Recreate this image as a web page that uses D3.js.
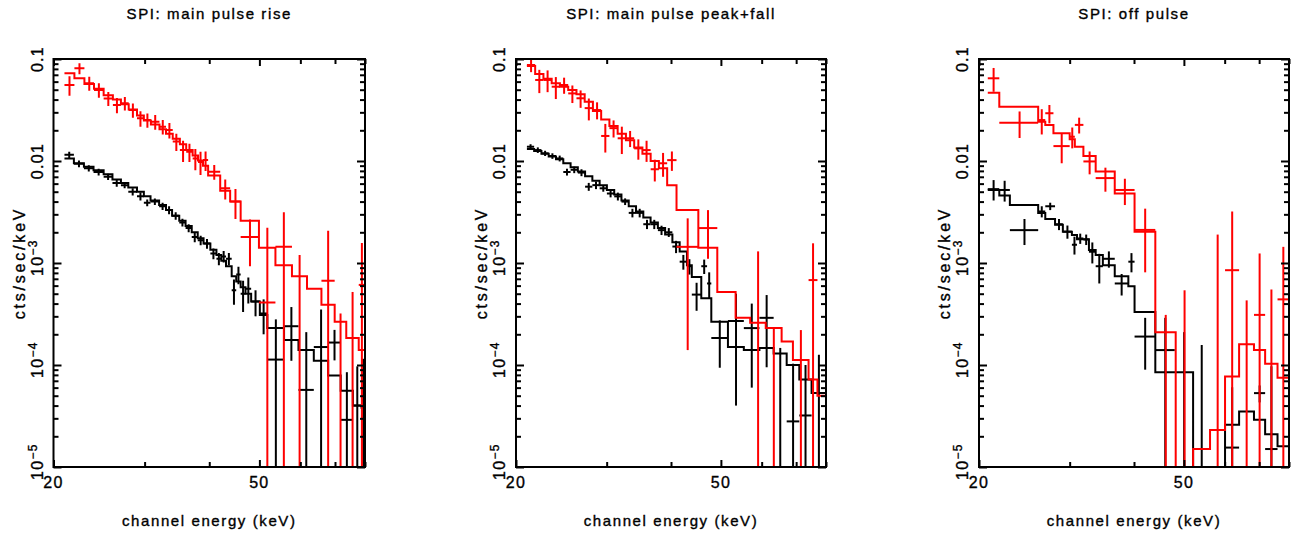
<!DOCTYPE html>
<html><head><meta charset="utf-8">
<script src="https://cdn.jsdelivr.net/npm/d3@7"></script>
<style>
html,body{margin:0;padding:0;background:#fff;}
svg{display:block;}
text{font-family:"Liberation Sans", Arial, Helvetica, sans-serif;fill:#000;stroke:#000;stroke-width:0.35px;}
</style></head><body>
<svg id="chart" width="1299" height="533"></svg>
<script>
// ---------- titles and axis text ----------
const panelTitles = ["SPI: main pulse rise", "SPI: main pulse peak+fall", "SPI: off pulse"];
const xAxisTitle = "channel energy (keV)";
const yAxisTitle = "cts/sec/keV";
const xMajorTicks = [20, 50];
const xMajorLabels = ["20", "50"];
const xMinorTicks = [30, 40, 60, 70, 80];
const yMajorTicks = [1e-1, 1e-2, 1e-3, 1e-4, 1e-5];
const yTickBase = ["0.1", "0.01", "10", "10", "10"];
const yTickExp = ["", "", "\u22123", "\u22124", "\u22125"];
const xDomain = [20, 80];
const yDomain = [1e-5, 0.1];

// ---------- panel 1: main pulse rise ----------
const p1BlackEdges = [21.0, 21.9, 22.9, 23.9, 25.0, 26.0, 27.0, 27.9, 29.0, 29.9, 30.8, 32.0, 33.0, 33.9, 35.0, 36.0, 37.0, 38.0, 39.0, 40.2, 41.3, 42.2, 43.1, 44.2, 45.1, 46.0, 47.0, 48.2, 50.1, 51.8, 55.8, 59.5, 63.7, 67.9, 71.8, 75.8, 78.8, 80.0];
const p1BlackRate = [0.0115, 0.0094, 0.0085, 0.0078, 0.0070, 0.0061, 0.0058, 0.0050, 0.0045, 0.0039, 0.0040, 0.0036, 0.0033, 0.0029, 0.0025, 0.0022, 0.0018, 0.00167, 0.00155, 0.00124, 0.0011, 0.00116, 0.0011, 0.00054, 0.00077, 0.00050, 0.00056, 0.00042, 0.00032, 0.000113, 0.00024, 0.000057, 0.00015, 0.000166, 0.000029, 0.000040, 0.000045];
const p1BlackErr = [0.0008, 0.0007, 0.0006, 0.0006, 0.0005, 0.0005, 0.0004, 0.0004, 0.0004, 0.0003, 0.0003, 0.0003, 0.0003, 0.00025, 0.00022, 0.0002, 0.0002, 0.00018, 0.00017, 0.00015, 0.00015, 0.00015, 0.00015, 0.00015, 0.00015, 0.00017, 0.00016, 0.00012, 0.00012, 0.000167, 0.00013, 0.000153, 0.0002, 0.000055, 0.000056, 0.000057, 0.00007];
const p1BlackModel = [0.0106, 0.0095, 0.0088, 0.0081, 0.0074, 0.0066, 0.0061, 0.0055, 0.0050, 0.0045, 0.0041, 0.0037, 0.0033, 0.0029, 0.0026, 0.0023, 0.0020, 0.00175, 0.00155, 0.00135, 0.0012, 0.00105, 0.00093, 0.00074, 0.00066, 0.00058, 0.00050, 0.00042, 0.00031, 0.00023, 0.000176, 0.00014, 0.00011, 0.000079, 0.000056, 0.000040, 0.000038];

const p1RedEdges = [21.0, 21.95, 22.95, 23.95, 25.0, 26.05, 27.0, 27.95, 29.0, 29.9, 30.85, 32.05, 33.0, 34.0, 35.1, 36.1, 37.15, 38.05, 38.9, 39.8, 42.0, 43.9, 46.0, 49.9, 53.7, 57.8, 61.8, 65.9, 69.9, 73.6, 77.8, 80.0];
const p1RedRate = [0.0556, 0.081, 0.0578, 0.0497, 0.0411, 0.0354, 0.0368, 0.0316, 0.0262, 0.0252, 0.0243, 0.0217, 0.0201, 0.0155, 0.0128, 0.0123, 0.0106, 0.0098, 0.0102, 0.00785, 0.0054, 0.0040, 0.0018, 0.00041, 0.00144, 0, null, 0.00067, 0, 0, 0.00061];
const p1RedErr = [0.012, 0.010, 0.009, 0.008, 0.0065, 0.006, 0.0055, 0.005, 0.0045, 0.004, 0.004, 0.0035, 0.0035, 0.003, 0.003, 0.0025, 0.0025, 0.0025, 0.0022, 0.0013, 0.0012, 0.0013, 0.00087, 0.0018, 0.0017, 0.0012, null, 0.0014, 0.00032, 0.00052, 0.00096];
const p1RedModel = [0.0724, 0.0647, 0.057, 0.051, 0.044, 0.040, 0.036, 0.032, 0.028, 0.025, 0.0228, 0.0205, 0.0185, 0.0165, 0.0146, 0.0128, 0.0113, 0.0101, 0.0090, 0.0072, 0.0051, 0.0040, 0.00259, 0.00141, 0.00095, 0.00074, 0.00056, 0.00039, 0.000265, 0.000184, 0.00014];

// ---------- panel 2: main pulse peak+fall ----------
const p2BlackEdges = [21.0, 21.69, 22.41, 23.15, 23.92, 24.71, 25.53, 26.37, 27.24, 28.14, 29.07, 30.03, 31.03, 32.05, 33.11, 34.21, 35.34, 36.51, 37.72, 38.96, 40.25, 41.58, 42.96, 43.9, 45.8, 47.0, 47.9, 51.6, 55.4, 59.4, 63.3, 67.1, 71.0, 75.0, 80.0];
const p2BlackRate = [0.0138, 0.0128, 0.0119, 0.0112, 0.0106, 0.0078, 0.0082, 0.0077, 0.0056, 0.0058, 0.0054, 0.0048, 0.0045, 0.0040, 0.0031, 0.0031, 0.0024, 0.0024, 0.0021, 0.0020, 0.00145, 0.00103, 0.00093, 0.00049, 0.00093, 0.00063, 0.000184, 0.00027, 0.00023, 0.00029, 0, 0.000028, 0.000032, 0];
const p2BlackErr = [0.0008, 0.0008, 0.0007, 0.0007, 0.0007, 0.0006, 0.0006, 0.0006, 0.0005, 0.0005, 0.0004, 0.0004, 0.0004, 0.0003, 0.0003, 0.0003, 0.00025, 0.00025, 0.00022, 0.0002, 0.0002, 0.00017, 0.00016, 0.00015, 0.00015, 0.00018, 0.00009, 0.00023, 0.00017, 0.000195, 0.000147, 0.000075, 0.000068, 0.000126];
const p2BlackModel = [0.0131, 0.0125, 0.0118, 0.0111, 0.0104, 0.0095, 0.0087, 0.0079, 0.0071, 0.0064, 0.0058, 0.0052, 0.0047, 0.0041, 0.0036, 0.0032, 0.0028, 0.0025, 0.0022, 0.0019, 0.0016, 0.0013, 0.00095, 0.00073, 0.00045, 0.00045, 0.000265, 0.00015, 0.00014, 0.000147, 0.00013, 0.0001, 0.000072, 0.000053];

const p2RedEdges = [21.0, 21.79, 22.61, 23.46, 24.34, 25.26, 26.21, 27.19, 28.21, 29.27, 30.37, 31.51, 32.70, 33.93, 35.20, 36.52, 37.89, 39.32, 41.0, 45.2, 49.2, 53.4, 57.0, 61.1, 65.6, 69.0, 74.0, 77.0, 80.0];
const p2RedRate = [0.0873, 0.0623, 0.0623, 0.0535, 0.0556, 0.046, 0.0412, 0.033, 0.0316, 0.0176, 0.021, 0.0167, 0.0167, 0.0133, 0.0128, 0.0083, 0.0095, 0.0102, 0.00144, 0.0022, null, null, 0, 0, null, 0, 0.00068, null];
const p2RedErr = [0.013, 0.016, 0.015, 0.013, 0.010, 0.009, 0.008, 0.008, 0.006, 0.0055, 0.004, 0.005, 0.003, 0.003, 0.003, 0.002, 0.0025, 0.0022, 0.0013, 0.0011, null, null, 0.0013, 0.00023, null, 0.00022, 0.00088, null];
const p2RedModel = [0.0854, 0.0713, 0.064, 0.058, 0.0536, 0.0497, 0.045, 0.038, 0.031, 0.0255, 0.022, 0.0185, 0.0160, 0.0136, 0.0118, 0.0100, 0.0085, 0.0058, 0.0033, 0.00141, 0.00052, 0.00029, 0.00026, 0.00023, 0.00017, 0.000112, 0.000072, 0.000050];

// ---------- panel 3: off pulse ----------
const p3BlackEdges = [20.8, 21.9, 22.96, 26.06, 26.9, 28.1, 29.1, 30.3, 31.0, 31.9, 32.7, 33.7, 34.8, 36.7, 39.0, 40.1, 44.0, 48.0, 52.1, 56.2, 60.1, 64.0, 68.4, 71.9, 76.0, 80.0];
const p3BlackRate = [0.0053, 0.0052, 0.0021, 0.0032, 0.0036, 0.0024, 0.00203, 0.00151, 0.00174, 0.0017, 0.00129, 0.00093, 0.0011, 0.00063, 0.00103, 0.00019, 0.00014, 0, 0, null, 0.0000155, null, 0.000053, 0.000015, null];
const p3BlackErr = [0.0012, 0.0012, 0.0006, 0.0004, 0.0003, 0.0003, 0.0003, 0.0003, 0.0002, 0.0002, 0.0003, 0.0003, 0.0002, 0.00015, 0.00022, 0.0001, 0.00015, 0.00021, 0.000157, null, 0.000045, null, 0.00001, 0.000082, null];
const p3BlackModel = [0.0052, 0.0046, 0.0037, 0.0031, 0.0027, 0.00237, 0.00203, 0.00188, 0.00171, 0.00171, 0.00134, 0.00120, 0.00095, 0.00074, 0.00059, 0.00033, 0.000085, 0.000085, 0.000001, 0.000001, 0.000026, 0.000035, 0.000029, 0.000021, 0.000016];

const p3RedEdges = [20.8, 21.9, 26.06, 26.9, 27.9, 30.0, 30.7, 31.9, 33.7, 36.7, 40.1, 44.0, 48.2, 52.1, 56.2, 60.1, 64.0, 68.4, 71.9, 76.0, 80.0];
const p3RedRate = [0.0647, 0.0237, 0.0252, 0.0294, 0.0140, 0.0173, 0.0226, 0.0099, 0.0068, 0.0052, 0.00211, 0, 0, null, 0, 0.00085, 0, 0.00031, 0, 0.00044];
const p3RedErr = [0.017, 0.0069, 0.007, 0.006, 0.0045, 0.004, 0.004, 0.0025, 0.0018, 0.0015, 0.0013, 0.00031, 0.00054, null, 0.0019, 0.00235, 0.00043, 0.00093, 0.00055, 0.001];
const p3RedModel = [0.0468, 0.034, 0.0243, 0.0226, 0.0187, 0.0163, 0.0138, 0.0112, 0.0079, 0.0048, 0.00203, 0.00021, 0.000001, 0.000015, 0.000023, 0.000077, 0.00016, 0.00014, 0.000103, 0.000075];

// ---------- assemble ----------
const panels = [
  {title: panelTitles[0], x0: 53.5, x1: 365,
   series: [{edges: p1BlackEdges, rate: p1BlackRate, err: p1BlackErr, model: p1BlackModel, color: "#000000"},
            {edges: p1RedEdges, rate: p1RedRate, err: p1RedErr, model: p1RedModel, color: "#ff0000"}]},
  {title: panelTitles[1], x0: 516, x1: 826,
   series: [{edges: p2BlackEdges, rate: p2BlackRate, err: p2BlackErr, model: p2BlackModel, color: "#000000"},
            {edges: p2RedEdges, rate: p2RedRate, err: p2RedErr, model: p2RedModel, color: "#ff0000"}]},
  {title: panelTitles[2], x0: 979, x1: 1289,
   series: [{edges: p3BlackEdges, rate: p3BlackRate, err: p3BlackErr, model: p3BlackModel, color: "#000000"},
            {edges: p3RedEdges, rate: p3RedRate, err: p3RedErr, model: p3RedModel, color: "#ff0000"}]}
];

const yTop = 59, yBottom = 467;
const svg = d3.select("#chart");
const LW = 2;

panels.forEach((p, pi) => {
  const x = d3.scaleLog().domain(xDomain).range([p.x0, p.x1]);
  const y = d3.scaleLog().domain(yDomain).range([yBottom, yTop]);
  const yc = v => y(Math.min(Math.max(v, yDomain[0]), yDomain[1]));
  const g = svg.append("g");

  const clipId = "clip" + pi;
  svg.append("defs").append("clipPath").attr("id", clipId)
    .append("rect").attr("x", p.x0).attr("y", yTop).attr("width", p.x1 - p.x0).attr("height", yBottom - yTop);

  const plot = g.append("g").attr("clip-path", `url(#${clipId})`);

  p.series.forEach(s => {
    const bins = s.model.map((m, i) => ({lo: s.edges[i], hi: s.edges[i + 1], m: m, v: s.rate[i], e: s.err[i]}));
    // model histogram
    const pts = bins.flatMap(b => [[b.lo, b.m], [b.hi, b.m]]);
    const line = d3.line().x(d => x(d[0])).y(d => yc(d[1]));
    plot.append("path").attr("d", line(pts)).attr("fill", "none")
      .attr("stroke", s.color).attr("stroke-width", LW).attr("stroke-linejoin", "miter");
    // data crosses
    const data = bins.filter(b => b.v !== null);
    const cg = plot.append("g").attr("stroke", s.color).attr("stroke-width", LW).attr("fill", "none");
    cg.selectAll("line.h").data(data.filter(b => b.v > yDomain[0])).join("line")
      .attr("x1", b => x(b.lo)).attr("x2", b => x(b.hi))
      .attr("y1", b => y(b.v)).attr("y2", b => y(b.v));
    cg.selectAll("line.v").data(data).join("line")
      .attr("x1", b => x((b.lo + b.hi) / 2)).attr("x2", b => x((b.lo + b.hi) / 2))
      .attr("y1", b => yc(b.v - b.e) + (b.v - b.e <= yDomain[0] ? 2 : 0))
      .attr("y2", b => yc(b.v + b.e));
  });

  // axes ticks (inward) via d3 axes
  const minorY = y.ticks().filter(t => !yMajorTicks.some(m => Math.abs(m - t) / m < 1e-6));
  const styleAxis = sel => {
    sel.select(".domain").remove();
    sel.selectAll(".tick line").attr("stroke", "#000").attr("stroke-width", LW);
    sel.selectAll(".tick text").remove();
  };
  g.append("g").attr("transform", `translate(${p.x0},0)`)
    .call(d3.axisRight(y).tickValues(yMajorTicks).tickSize(8).tickFormat(""))
    .call(styleAxis);
  g.append("g").attr("transform", `translate(${p.x0},0)`)
    .call(d3.axisRight(y).tickValues(minorY).tickSize(5).tickFormat(""))
    .call(styleAxis);
  g.append("g").attr("transform", `translate(${p.x1},0)`)
    .call(d3.axisLeft(y).tickValues(yMajorTicks).tickSize(8).tickFormat(""))
    .call(styleAxis);
  g.append("g").attr("transform", `translate(${p.x1},0)`)
    .call(d3.axisLeft(y).tickValues(minorY).tickSize(5).tickFormat(""))
    .call(styleAxis);
  g.append("g").attr("transform", `translate(0,${yBottom})`)
    .call(d3.axisTop(x).tickValues(xMajorTicks).tickSize(7).tickFormat(""))
    .call(styleAxis);
  g.append("g").attr("transform", `translate(0,${yBottom})`)
    .call(d3.axisTop(x).tickValues(xMinorTicks).tickSize(5).tickFormat(""))
    .call(styleAxis);
  g.append("g").attr("transform", `translate(0,${yTop})`)
    .call(d3.axisBottom(x).tickValues(xMajorTicks).tickSize(7).tickFormat(""))
    .call(styleAxis);
  g.append("g").attr("transform", `translate(0,${yTop})`)
    .call(d3.axisBottom(x).tickValues(xMinorTicks).tickSize(5).tickFormat(""))
    .call(styleAxis);

  // frame
  g.append("rect").attr("x", p.x0).attr("y", yTop).attr("width", p.x1 - p.x0).attr("height", yBottom - yTop)
    .attr("fill", "none").attr("stroke", "#000").attr("stroke-width", LW);

  // y tick labels (rotated)
  yMajorTicks.forEach((t, i) => {
    const ty = y(t);
    const hasExp = yTickExp[i] !== "";
    const txt = g.append("text")
      .attr("transform", `translate(${p.x0 - 11},${hasExp ? ty + 13 : ty}) rotate(-90)`)
      .attr("text-anchor", hasExp ? "start" : "middle")
      .attr("font-size", 16).attr("letter-spacing", 1.3);
    txt.append("tspan").text(yTickBase[i]);
    if (hasExp) txt.append("tspan").attr("dy", -6).attr("font-size", 12).text(yTickExp[i]);
  });

  // x tick labels
  xMajorTicks.forEach((t, i) => {
    g.append("text").attr("x", x(t)).attr("y", 488).attr("text-anchor", "middle")
      .attr("font-size", 16).attr("letter-spacing", 1.3).text(xMajorLabels[i]);
  });

  const cx = (p.x0 + p.x1) / 2;
  g.append("text").attr("x", cx).attr("y", 19).attr("text-anchor", "middle")
    .attr("font-size", 15).attr("letter-spacing", 1.6).text(p.title);
  g.append("text").attr("x", cx).attr("y", 526).attr("text-anchor", "middle")
    .attr("font-size", 15).attr("letter-spacing", 1.6).text(xAxisTitle);
  g.append("text").attr("transform", `translate(${p.x0 - 29},${(yTop + yBottom) / 2}) rotate(-90)`)
    .attr("text-anchor", "middle").attr("font-size", 16).attr("letter-spacing", 2.8).text(yAxisTitle);
});
</script>
</body></html>
